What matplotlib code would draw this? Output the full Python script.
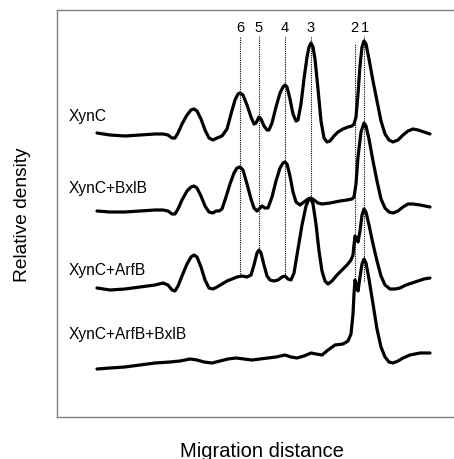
import numpy as np
import matplotlib
matplotlib.use('Agg')
import matplotlib.pyplot as plt

plt.rcParams['font.family'] = ['Liberation Sans', 'DejaVu Sans']

# densitometry traces (migration distance, relative density)
x_xync = [40, 53, 68, 83, 98, 106, 111, 115, 118, 121, 125, 130, 134, 137, 140, 144, 148, 152, 156, 160,
          165, 170, 174, 178, 181, 183, 186, 190, 194, 197, 199, 202, 204, 207, 210, 212, 215, 219, 223, 226,
          228, 230, 233, 236, 239, 241, 244, 247, 250, 252, 254, 256, 258, 261, 264, 267, 270, 273, 277, 281,
          286, 291, 295, 297, 299, 301, 303, 305, 307, 309, 312, 316, 320, 324, 328, 332, 336, 341, 346, 351,
          356, 361, 367, 373]
y_xync = [284, 282, 281, 282, 283, 283, 282, 279, 279, 284, 293, 302, 307, 308, 306, 298, 287, 279, 277, 279,
          281, 288, 303, 317, 323, 324, 322, 312, 300, 293, 294, 300, 298, 291, 287, 287, 294, 310, 324, 330,
          332, 330, 318, 303, 296, 297, 313, 338, 360, 370, 374, 370, 358, 328, 296, 279, 275, 276, 281, 285,
          288, 290, 291, 293, 300, 323, 351, 370, 376, 373, 358, 336, 316, 296, 283, 277, 275, 277, 282, 286,
          288, 287, 285, 283]

x_bxlb = [40, 53, 68, 83, 98, 106, 111, 115, 118, 121, 125, 130, 134, 137, 140, 144, 148, 152, 156, 159,
          162, 165, 169, 173, 177, 180, 183, 186, 190, 194, 197, 200, 203, 205, 208, 211, 215, 219, 223, 226,
          228, 230, 233, 236, 239, 243, 247, 251, 254, 257, 261, 265, 273, 283, 290, 295, 297, 299, 301, 304,
          307, 309, 312, 316, 320, 324, 328, 332, 336, 341, 346, 351, 356, 363, 373]
y_bxlb = [206, 205, 205, 206, 207, 207, 206, 203, 203, 208, 217, 226, 230, 231, 229, 221, 211, 205, 204, 206,
          206, 208, 220, 233, 244, 249, 250, 247, 233, 218, 209, 206, 209, 211, 209, 209, 220, 236, 249, 254,
          255, 253, 241, 225, 215, 212, 215, 218, 219, 217, 214, 213, 214, 216, 217, 218, 220, 233, 260, 285,
          294, 291, 278, 256, 236, 218, 209, 205, 204, 206, 210, 213, 213, 212, 210]

x_arfb = [40, 53, 68, 83, 98, 106, 111, 115, 118, 121, 125, 130, 134, 137, 140, 144, 148, 152, 156, 160,
          165, 170, 175, 180, 185, 190, 194, 197, 200, 202, 204, 207, 210, 213, 217, 221, 225, 228, 231, 234,
          237, 241, 245, 249, 252, 254, 256, 259, 262, 265, 268, 271, 275, 280, 285, 290, 294, 296, 297, 298,
          300, 301, 303, 305, 307, 309, 312, 316, 320, 324, 328, 333, 338, 343, 349, 355, 361, 367, 373]
y_arfb = [129, 127, 128, 130, 132, 134, 132, 127, 126, 131, 141, 153, 160, 162, 160, 150, 137, 129, 128, 130,
          133, 136, 138, 140, 141, 140, 142, 152, 164, 167, 164, 152, 141, 137, 136, 137, 140, 141, 138, 137,
          144, 168, 192, 211, 218, 218, 213, 193, 166, 146, 136, 133, 136, 142, 147, 152, 157, 162, 172, 181,
          178, 175, 186, 202, 208, 205, 192, 173, 156, 141, 132, 128, 128, 129, 132, 134, 136, 138, 139]

x_both = [40, 53, 68, 83, 98, 113, 123, 133, 140, 147, 155, 163, 171, 179, 187, 195, 203, 211, 219, 228,
          234, 240, 247, 254, 259, 265, 271, 278, 286, 291, 294, 296, 297, 298, 300, 301, 303, 305, 307, 309,
          312, 316, 320, 324, 328, 332, 336, 341, 346, 353, 363, 373]
y_both = [48, 49, 50, 52, 54, 55, 56, 58, 57, 55, 54, 56, 58, 59, 58, 57, 58, 59, 60, 62,
          60, 59, 61, 64, 63, 62, 67, 72, 73, 76, 83, 103, 123, 137, 130, 126, 140, 153, 158, 154,
          138, 113, 88, 70, 60, 55, 54, 56, 59, 62, 64, 64]

traces = [(x_xync, y_xync), (x_bxlb, y_bxlb), (x_arfb, y_arfb), (x_both, y_both)]
sample_names = ['XynC', 'XynC+BxlB', 'XynC+ArfB', 'XynC+ArfB+BxlB']
name_height = [301, 230, 148, 84]

# band markers
band_labels = ['6', '5', '4', '3', '2', '1']
band_pos = [183, 202, 228, 254, 298, 307]
band_top = [381, 381, 381, 381, 373, 381]
band_bottom = [141, 167, 139, 219, 136, 136]
label_pos = [183, 202, 228, 254, 297, 308]

fig = plt.figure(figsize=(4.54, 4.60), dpi=100)
ax = fig.add_axes([57 / 454, 42 / 460, 397 / 454, 407 / 460])

for (xs, ys) in traces:
    ax.plot(xs, ys, color='black', linewidth=2.3, solid_joinstyle='round', solid_capstyle='round')

for name, h in zip(sample_names, name_height):
    ax.text(12, h, name, fontsize=11.2, ha='left', va='center')

for i in range(len(band_pos)):
    ax.plot([band_pos[i], band_pos[i]], [band_bottom[i], band_top[i]], color='black',
            linewidth=0.8, linestyle=(0, (1, 1)))
    ax.text(label_pos[i], 390, band_labels[i], fontsize=10.5, ha='center', va='center')

ax.set_xlim(0, 397)
ax.set_ylim(0, 407)
ax.set_xticks([])
ax.set_yticks([])
ax.spines['right'].set_visible(False)
for s in ['left', 'top', 'bottom']:
    ax.spines[s].set_color('#808080')
    ax.spines[s].set_linewidth(1.0)

fig.text(23 / 454, 1 - 215 / 460, 'Relative density', rotation=90, fontsize=13.8,
         ha='center', va='center')
fig.text(262 / 454, 1 - 452 / 460, 'Migration distance', fontsize=14.5,
         ha='center', va='center')

fig.savefig('out.png', dpi=100)
